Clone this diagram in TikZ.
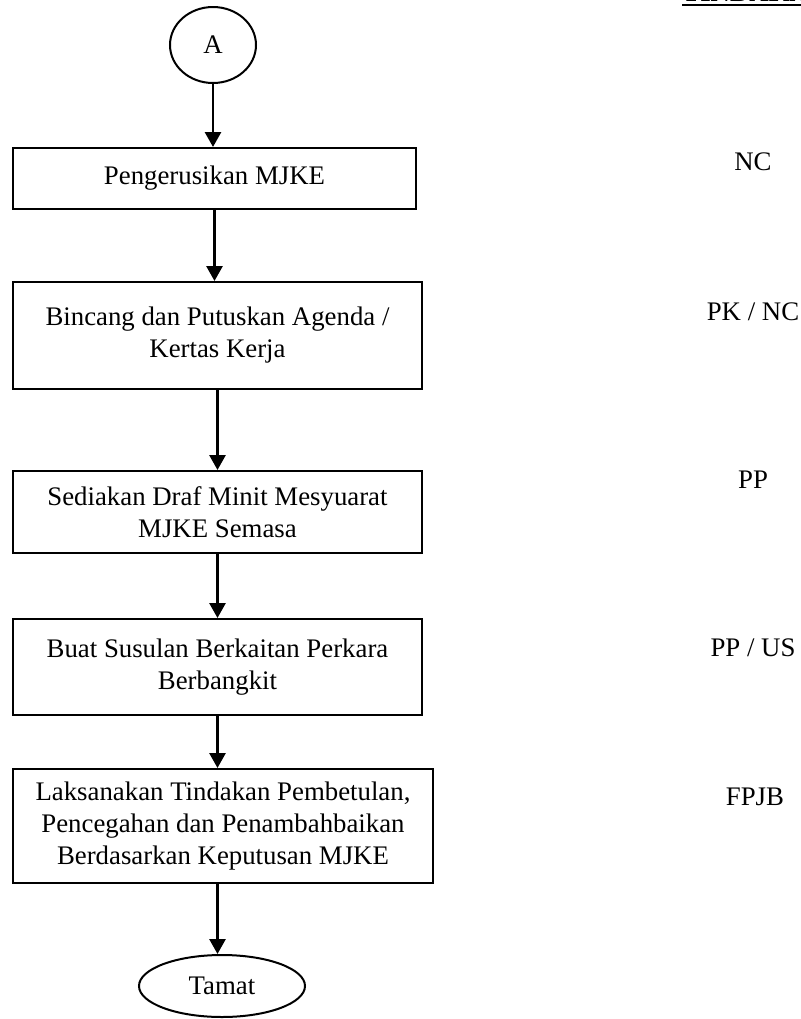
\documentclass[tikz,border=0pt]{standalone}
\usepackage{fontspec}
\setmainfont{Liberation Serif}
\usetikzlibrary{shapes.geometric,arrows.meta}

\begin{document}
\begin{tikzpicture}[x=0.5pt,y=-0.5pt,
    txt/.style={font=\fontsize{13.4pt}{16pt}\selectfont},
    box/.style={txt,draw,line width=1pt,align=center,inner sep=0pt},
    term/.style={txt,draw,ellipse,line width=1pt,inner sep=0pt},
    arr/.style={line width=1.4pt,-{Triangle[length=7.5pt,width=8pt]}}]
    \useasboundingbox (0,0) rectangle (801,1019);
    % heading of the right column
    \node[txt,font=\fontsize{13.4pt}{16pt}\bfseries,anchor=base west,inner sep=0pt] (hdr) at (682,1) {TINDAKAN};
    \draw[line width=1.1pt] (hdr.base west) ++(0,4) -- (830,5);
    % flow
    \node[term,minimum width=43pt,minimum height=38pt] (a) at (213,45) {A};
    \node[box,minimum width=201.5pt,minimum height=30.5pt] (b1) at (214.5,178.5) {Pengerusikan MJKE};
    \node[box,minimum width=204.5pt,minimum height=53.5pt] (b2) at (217.5,335.5) {Bincang dan Putuskan Agenda /\\Kertas Kerja};
    \node[box,minimum width=204.5pt,minimum height=41pt] (b3) at (217.5,512) {Sediakan Draf Minit Mesyuarat\\MJKE Semasa};
    \node[box,minimum width=204.5pt,minimum height=48pt] (b4) at (217.5,667) {Buat Susulan Berkaitan Perkara\\Berbangkit};
    \node[box,minimum width=210pt,minimum height=57pt] (b5) at (223,826) {Laksanakan Tindakan Pembetulan,\\Pencegahan dan Penambahbaikan\\Berdasarkan Keputusan MJKE};
    \node[term,minimum width=83pt,minimum height=31pt] (end) at (222,986) {Tamat};
    \draw[arr] (a.south) -- (a.south |- b1.north);
    \draw[arr] (b1.south) -- (b1.south |- b2.north);
    \draw[arr] (b2.south) -- (b2.south |- b3.north);
    \draw[arr] (b3.south) -- (b4.north);
    \draw[arr] (b4.south) -- (b4.south |- b5.north);
    \draw[arr] (b4.south |- b5.south) -- (b4.south |- end.north);
    % who does it
    \node[txt] (r1) at (753,162) {NC};
    \node[txt] (r2) at (753,312) {PK / NC};
    \node[txt] (r3) at (753,480) {PP};
    \node[txt] (r4) at (753,648) {PP / US};
    \node[txt] (r5) at (755,797) {FPJB};
\end{tikzpicture}
\end{document}
